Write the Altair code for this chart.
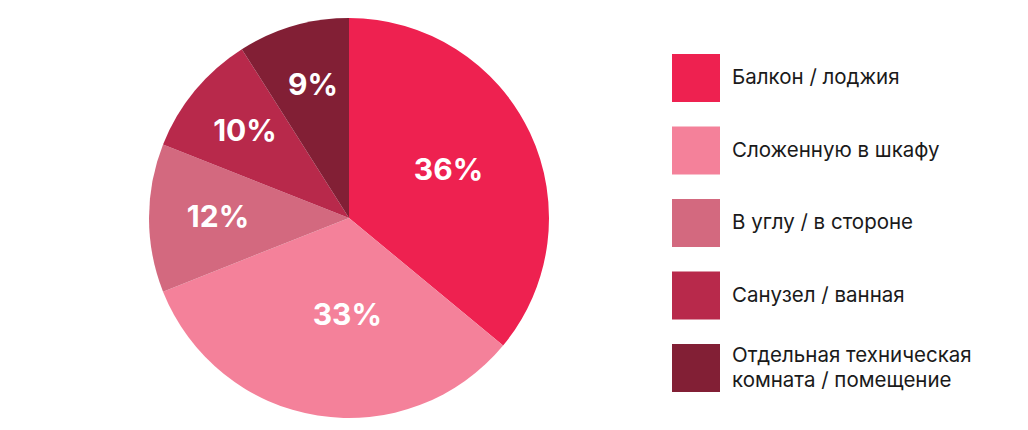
import altair as alt
import pandas as pd

categories = [
    "Балкон / лоджия",
    "Сложенную в шкафу",
    "В углу / в стороне",
    "Санузел / ванная",
    "Отдельная техническая\nкомната / помещение",
]
values = [36, 33, 12, 10, 9]
labels = ["36%", "33%", "12%", "10%", "9%"]
colors = ["#EE2150", "#F4819A", "#D3697F", "#B8294B", "#821F35"]

df = pd.DataFrame({
    "idx": list(range(len(categories))),
    "cat": categories,
    "value": values,
    "label": labels,
})

CX, CY, R = 341, 210, 200
FONT = "Inter"

color = alt.Color("cat:N", scale=alt.Scale(domain=categories, range=colors), legend=None)
theta = alt.Theta("value:Q", stack=True)
order = alt.Order("idx:Q")

base = alt.Chart(df)

pie = base.mark_arc(outerRadius=R, stroke=None).encode(
    theta=theta, color=color, order=order,
    x=alt.value(CX), y=alt.value(CY),
)

# per-label radial distance and angular nudge in degrees (style)
label_pos = {
    "36%": (110, 0),
    "33%": (98, -8),
    "12%": (131, 0),
    "10%": (135, 0),
    "9%": (137, 1),
}

stacked = base.transform_window(
    cum="sum(value)", sort=[alt.SortField("idx")],
    frame=[None, 0],
).transform_joinaggregate(total="sum(value)").transform_calculate(
    mid="(datum.cum - datum.value / 2) / datum.total * 2 * PI"
)

label_layers = []
for lab, (rad, nudge) in label_pos.items():
    label_layers.append(
        stacked.transform_filter(alt.datum.label == lab).transform_calculate(
            a=f"datum.mid + {nudge} * PI / 180"
        ).transform_calculate(
            px=f"{CX} + {rad} * sin(datum.a)",
            py=f"{CY} - {rad} * cos(datum.a)",
        ).mark_text(
            font=FONT, fontSize=30, fontWeight="bold", color="white",
            align="center", baseline="middle",
        ).encode(
            x=alt.X("px:Q", scale=None, axis=None),
            y=alt.Y("py:Q", scale=None, axis=None),
            text="label:N",
        )
    )

yleg = alt.Y("cat:N", sort=categories, axis=None,
             scale=alt.Scale(type="point", domain=categories, range=[70, 360], padding=0))

squares = base.mark_point(shape="square", filled=True, size=2304, opacity=1).encode(
    x=alt.value(688), y=yleg, color=color,
)

single = base.transform_filter("indexof(datum.cat, '\\n') < 0").mark_text(
    font=FONT, fontSize=20.5, color="#1a1a1a", align="left", baseline="middle",
).encode(x=alt.value(724), y=yleg, text="cat:N")

multi = base.transform_filter("indexof(datum.cat, '\\n') >= 0").mark_text(
    font=FONT, fontSize=20.5, color="#1a1a1a", align="left", baseline="middle",
    lineBreak="\n", lineHeight=25, dy=-12,
).encode(x=alt.value(724), y=yleg, text="cat:N")

chart = alt.layer(pie, *label_layers, squares, single, multi).resolve_scale(
    x="independent", y="independent"
).properties(
    width=1012, height=414, padding=0, background="white",
).configure_view(stroke=None)

chart.save("out.html", embed_options={"renderer": "svg", "actions": False})
